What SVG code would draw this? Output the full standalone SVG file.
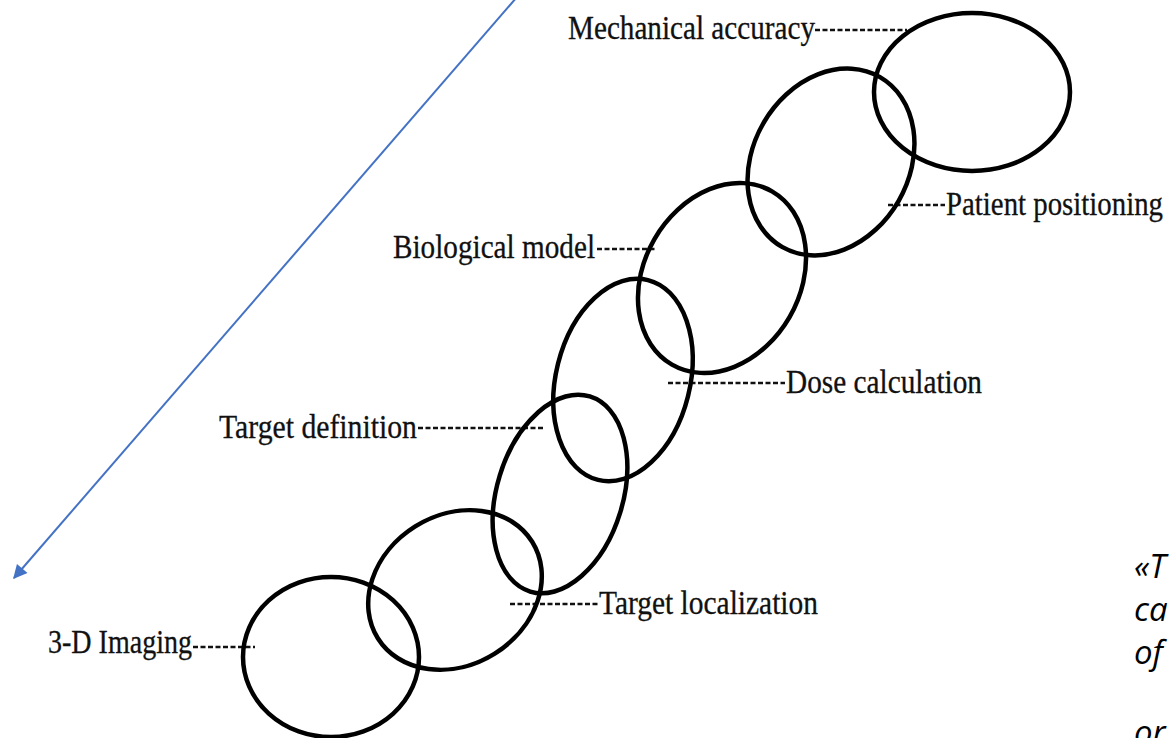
<svg xmlns="http://www.w3.org/2000/svg" width="1171" height="738" viewBox="0 0 1171 738">
  <style>
    .ring { fill: none; stroke: #000; stroke-width: 4.5; }
    .lbl { font-family: "Liberation Serif", "Times New Roman", serif; font-size: 33px; fill: #111; stroke: #111; stroke-width: 0.3; }
    .lead { stroke: #111; stroke-width: 2.6; stroke-dasharray: 5 2.5; fill: none; }
    .quote { font-family: "Open Sans", "Noto Sans", sans-serif; font-style: italic; font-size: 33px; fill: #000; }
  </style>
  <defs>
    <marker id="arrowBlue" viewBox="0 0 10 10" refX="9" refY="5" markerWidth="8" markerHeight="7" markerUnits="strokeWidth" orient="auto">
      <path d="M0,0 L10,5 L0,10 z" fill="#4472C4"/>
    </marker>
  </defs>
  <rect width="1171" height="738" fill="#fff"/>

  <g id="arrow">
    <line x1="517" y1="-3" x2="14" y2="578" stroke="#4472C4" stroke-width="2" marker-end="url(#arrowBlue)"/>
  </g>

  <g id="connectors">
    <line class="lead" x1="815" y1="30" x2="907" y2="30"/>
    <line class="lead" x1="888" y1="205" x2="945" y2="205"/>
    <line class="lead" x1="597" y1="249" x2="655" y2="249"/>
    <line class="lead" x1="668" y1="383" x2="785" y2="383"/>
    <line class="lead" x1="418" y1="428" x2="545" y2="428"/>
    <line class="lead" x1="510" y1="604" x2="598" y2="604"/>
    <line class="lead" x1="193" y1="647" x2="255" y2="647"/>
  </g>

  <g id="node-3d-imaging">
    <ellipse class="ring" cx="331" cy="657" rx="88" ry="80"/>
    <text class="lbl" x="48" y="653" textLength="144" lengthAdjust="spacingAndGlyphs">3-D Imaging</text>
  </g>
  <g id="node-target-localization">
    <ellipse class="ring" cx="455" cy="590" rx="91" ry="75" transform="rotate(-32 455 590)"/>
    <text class="lbl" x="599" y="614" textLength="219" lengthAdjust="spacingAndGlyphs">Target localization</text>
  </g>
  <g id="node-target-definition">
    <ellipse class="ring" cx="560" cy="494" rx="63" ry="102" transform="rotate(17 560 494)"/>
    <text class="lbl" x="219" y="438" textLength="198" lengthAdjust="spacingAndGlyphs">Target definition</text>
  </g>
  <g id="node-biological-model">
    <ellipse class="ring" cx="623" cy="380" rx="67" ry="103" transform="rotate(14 623 380)"/>
    <text class="lbl" x="393" y="258" textLength="202" lengthAdjust="spacingAndGlyphs">Biological model</text>
  </g>
  <g id="node-dose-calculation">
    <ellipse class="ring" cx="722" cy="278" rx="78" ry="100" transform="rotate(30 722 278)"/>
    <text class="lbl" x="786" y="393" textLength="196" lengthAdjust="spacingAndGlyphs">Dose calculation</text>
  </g>
  <g id="node-patient-positioning">
    <ellipse class="ring" cx="831" cy="162" rx="78" ry="98" transform="rotate(30 831 162)"/>
    <text class="lbl" x="946" y="215" textLength="217" lengthAdjust="spacingAndGlyphs">Patient positioning</text>
  </g>
  <g id="node-mechanical-accuracy">
    <ellipse class="ring" cx="972" cy="92" rx="98" ry="79"/>
    <text class="lbl" x="568" y="39" textLength="247" lengthAdjust="spacingAndGlyphs">Mechanical accuracy</text>
  </g>

  <g id="quote">
    <text class="quote" x="1134" y="578">«T</text>
    <text class="quote" x="1134" y="621">ca</text>
    <text class="quote" x="1134" y="664">of</text>
    <text class="quote" x="1134" y="744">or</text>
  </g>
</svg>
